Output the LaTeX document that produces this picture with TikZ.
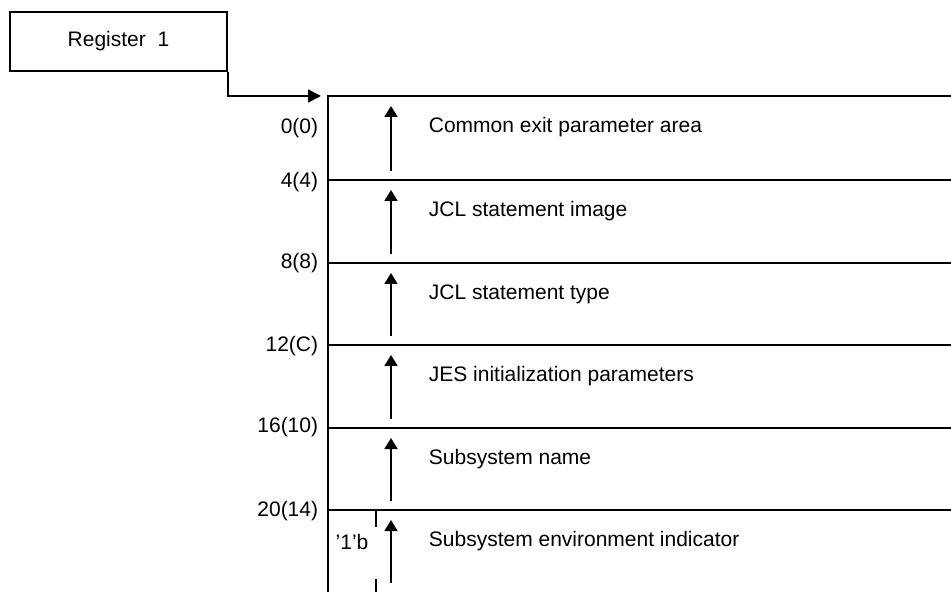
\documentclass[tikz,border=0pt]{standalone}
\usepackage{fontspec}
\setmainfont{Liberation Sans}
\usetikzlibrary{arrows.meta,positioning}

\begin{document}
\begin{tikzpicture}[x=0.5pt,y=-0.5pt,line width=0.9pt,
        font=\fontsize{10.5}{12.6}\selectfont,
        field/.style={right, inner sep=0pt},
        offset/.style={left, inner sep=0pt},
        upptr/.style={-{Triangle[length=5.5pt,width=6.5pt]}}]
    \useasboundingbox (0,0) rectangle (951,592);
    % Register
    \node[draw, minimum width=108.5pt, minimum height=29.5pt, inner sep=0pt] (reg) at (118.5,41.5) {Register\ \ 1};
    \coordinate (entry) at (321,96);
    \draw[-{Triangle[length=6.5pt,width=6.5pt]}] (reg.south east) |- (entry);
    % Parameter list
    \draw (951,96) -- (328,96) -- (328,592);
    \foreach \y in {180,263,345,428,510} {
        \draw (328,\y) -- (951,\y);
    }
    \foreach \t/\b/\n/\txt in {96/180/1/Common exit parameter area,
            180/263/2/JCL statement image,
            263/345/3/JCL statement type,
            345/428/4/JES initialization parameters,
            428/510/5/Subsystem name,
            510/592/6/Subsystem environment indicator} {
        \coordinate (tail\n) at (391,\b-9);
        \coordinate (tip\n) at (391,\t+10);
        \draw[upptr] (tail\n) -- (tip\n);
        \node[field] (fld\n) at (428,\t+31) {\txt};
    }
    % Offsets
    \foreach \y/\n/\o in {128/0/{0(0)}, 182/4/{4(4)}, 263/8/{8(8)}, 346/12/{12(C)}, 427/16/{16(10)}, 511/20/{20(14)}} {
        \node[offset] (off\n) at (319,\y) {\o};
    }
    % Indicator byte
    \draw (376,510) -- (376,527);
    \draw (376,579) -- (376,592);
    \node[inner sep=0pt] (bit) at (352,542) {'1'b};
\end{tikzpicture}
\end{document}
